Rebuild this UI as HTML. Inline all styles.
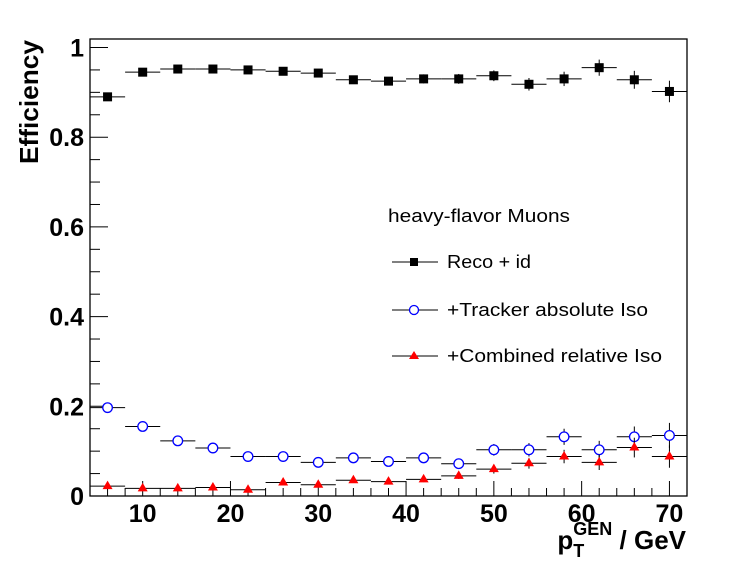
<!DOCTYPE html>
<html><head><meta charset="utf-8"><style>
body{margin:0;background:#fff}
svg{display:block;font-family:"Liberation Sans",Arial,sans-serif}
</style></head><body>
<svg id="c" width="746" height="572">
<rect x="0" y="0" width="746" height="572" fill="#fff"/>
<g id="ticks"></g>
<g id="marks"></g>
<rect x="90" y="39" width="597" height="457" fill="none" stroke="#000" stroke-width="1.3"/>
<text transform="translate(38,102) rotate(-90)" text-anchor="middle" font-size="26" font-weight="bold" textLength="124" lengthAdjust="spacingAndGlyphs">Efficiency</text>
<text x="686" y="549" text-anchor="end" font-size="26" font-weight="bold">p<tspan font-size="18" dy="8">T</tspan><tspan font-size="18" dx="-11" dy="-22">GEN</tspan><tspan dy="14"> / GeV</tspan></text>
<g>
<text x="388" y="222" font-size="18" textLength="182" lengthAdjust="spacingAndGlyphs">heavy-flavor Muons</text>
<g><line x1="392" y1="262" x2="438" y2="262" stroke="#000"/><rect x="410" y="258" width="8" height="8" fill="#000"/><text x="447" y="268" font-size="18" textLength="84" lengthAdjust="spacingAndGlyphs">Reco + id</text></g>
<g><line x1="392" y1="310" x2="438" y2="310" stroke="#000"/><circle cx="414" cy="310" r="4.5" fill="#fff" stroke="#00f" stroke-width="1.3"/><text x="447" y="316" font-size="18" textLength="201" lengthAdjust="spacingAndGlyphs">+Tracker absolute Iso</text></g>
<g><line x1="392" y1="356" x2="438" y2="356" stroke="#000"/><polygon points="414,351 419,359 409,359" fill="#f00"/><text x="447" y="362" font-size="18" textLength="215" lengthAdjust="spacingAndGlyphs">+Combined relative Iso</text></g>
</g>
</svg>
<script>
const centers=[6,10,14,18,22,26,30,34,38,42,46,50,54,58,62,66,70];
const reco=[0.890,0.945,0.952,0.952,0.950,0.947,0.943,0.928,0.925,0.930,0.930,0.937,0.918,0.930,0.955,0.928,0.902];
const recoErr=[0.004,0.005,0.005,0.005,0.006,0.006,0.007,0.008,0.009,0.010,0.011,0.012,0.014,0.016,0.018,0.020,0.024];
const trk=[0.197,0.155,0.123,0.107,0.088,0.088,0.075,0.085,0.077,0.085,0.072,0.103,0.103,0.132,0.103,0.132,0.135];
const trkErr=[0.003,0.004,0.004,0.005,0.005,0.006,0.006,0.007,0.008,0.009,0.010,0.013,0.015,0.018,0.020,0.023,0.028];
const comb=[0.022,0.017,0.017,0.019,0.014,0.030,0.025,0.035,0.032,0.037,0.045,0.060,0.073,0.088,0.075,0.108,0.088];
const combErr=[0.002,0.002,0.002,0.003,0.003,0.004,0.004,0.005,0.005,0.006,0.007,0.010,0.012,0.015,0.017,0.022,0.025];
const yTicks=[0,0.2,0.4,0.6,0.8,1];
const yTickLabels=["0","0.2","0.4","0.6","0.8","1"];
const xTicks=[10,20,30,40,50,60,70];
const xTickLabels=["10","20","30","40","50","60","70"];
const binHalf=2;
const X=v=>90+(v-4)*597/68;
const Y=v=>496-v*448.5;
const NS="http://www.w3.org/2000/svg";
function mk(tag,attrs,parent){const e=document.createElementNS(NS,tag);for(const k in attrs)e.setAttribute(k,attrs[k]);parent.appendChild(e);return e;}
const tg=document.getElementById('ticks');
for(let v=0;v<=1.0001;v+=0.05){const major=Math.abs(v*5-Math.round(v*5))<1e-6;
 const l=mk('line',{x1:90,x2:90+(major?18:10),y1:Y(v),y2:Y(v),stroke:'#000'},tg);
 
 }
yTicks.forEach((v,i)=>{const t=mk('text',{x:84,y:Y(v)+9,'text-anchor':'end','font-size':25,'font-weight':'bold'},tg);t.textContent=yTickLabels[i];
 
 });
for(let v=6;v<=72;v+=2){const major=v%10===0;
 const l=mk('line',{x1:X(v),x2:X(v),y1:496,y2:496-(major?15:8),stroke:'#000'},tg);
 
 }
xTicks.forEach((v,i)=>{const t=mk('text',{x:X(v),y:522,'text-anchor':'middle','font-size':25,'font-weight':'bold'},tg);t.textContent=xTickLabels[i];
 
 });
const mg=document.getElementById('marks');
function series(vals,errs,name,marker){
 const g=mk('g',{},mg);
 
 
 centers.forEach((c,i)=>{const x=X(c),y=Y(vals[i]);
  mk('line',{x1:X(c-binHalf),x2:X(c+binHalf),y1:y,y2:y,stroke:'#000'},g);
  mk('line',{x1:x,x2:x,y1:Y(vals[i]+errs[i]),y2:Y(vals[i]-errs[i]),stroke:'#000'},g);
  let m;
  if(marker==='sq')m=mk('rect',{x:x-4.5,y:y-4.5,width:9,height:9,fill:'#000'},g);
  else if(marker==='circ')m=mk('circle',{cx:x,cy:y,r:4.8,fill:'#fff',stroke:'#00f','stroke-width':1.3},g);
  else m=mk('polygon',{points:`${x},${y-5.5} ${x+5},${y+3} ${x-5},${y+3}`,fill:'#f00'},g);
  
  });
}
series(reco,recoErr,'reco-id','sq');
series(trk,trkErr,'tracker-abs-iso','circ');
series(comb,combErr,'combined-rel-iso','tri');
</script>
</body></html>
